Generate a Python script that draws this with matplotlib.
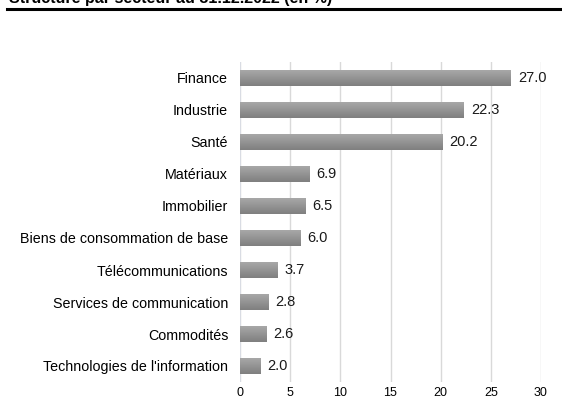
import matplotlib
matplotlib.use("Agg")
import matplotlib.pyplot as plt
import numpy as np
from matplotlib.colors import LinearSegmentedColormap

categories = ["Finance", "Industrie", "Santé", "Matériaux", "Immobilier",
              "Biens de consommation de base", "Télécommunications",
              "Services de communication", "Commodités",
              "Technologies de l'information"]
values = [27.0, 22.3, 20.2, 6.9, 6.5, 6.0, 3.7, 2.8, 2.6, 2.0]
xticks = [0, 5, 10, 15, 20, 25, 30]
title = "Structure par secteur au 31.12.2022 (en %)"

plt.rcParams['font.family'] = ['Liberation Sans', 'DejaVu Sans']

fig = plt.figure(figsize=(5.62, 4.0), dpi=100)
ax = fig.add_axes([240/562, 1-382/400, 301/562, 320/400])

y = np.arange(len(categories))
bars = ax.barh(y, values, height=0.5, color="#969696", zorder=3)
cmap = LinearSegmentedColormap.from_list("g", ["#7f7f7f", "#a8a8a8"])
grad = np.linspace(0, 1, 64).reshape(-1, 1)
for b in bars:
    x0, y0 = b.get_x(), b.get_y()
    w, h = b.get_width(), b.get_height()
    im = ax.imshow(grad, cmap=cmap, aspect="auto", origin="upper",
                   extent=(x0, x0 + w, y0, y0 + h), zorder=4)
    im.set_clip_path(b)

for yi, v in zip(y, values):
    ax.text(v + 0.7, yi, f"{v:.1f}", va="center", ha="left", fontsize=10.5, color="#1a1a1a", zorder=5)

ax.set_xlim(0, 30)
ax.set_ylim(len(categories) - 0.5, -0.5)
ax.set_xticks(xticks)
ax.set_xticklabels([str(t) for t in xticks], fontsize=9)
ax.set_yticks(y)
ax.set_yticklabels(categories, fontsize=10.3)
ax.tick_params(length=0, pad=8.5, axis="y")
ax.tick_params(length=0, pad=3.5, axis="x")
ax.grid(axis="x", color="#d9d9d9", linewidth=1, zorder=0)
for s in ax.spines.values():
    s.set_visible(False)
ax.axvline(0, color="#d9dde6", linewidth=1.2, zorder=2)

fig.text(9/562, 1 - 3.5/400, title, fontsize=11.5, fontweight="bold", ha="left", va="baseline")
fig.add_artist(plt.Line2D([7/562, 1.0], [1 - 8.5/400, 1 - 8.5/400], color="black", linewidth=2.2))

fig.savefig("out.png", dpi=100)
